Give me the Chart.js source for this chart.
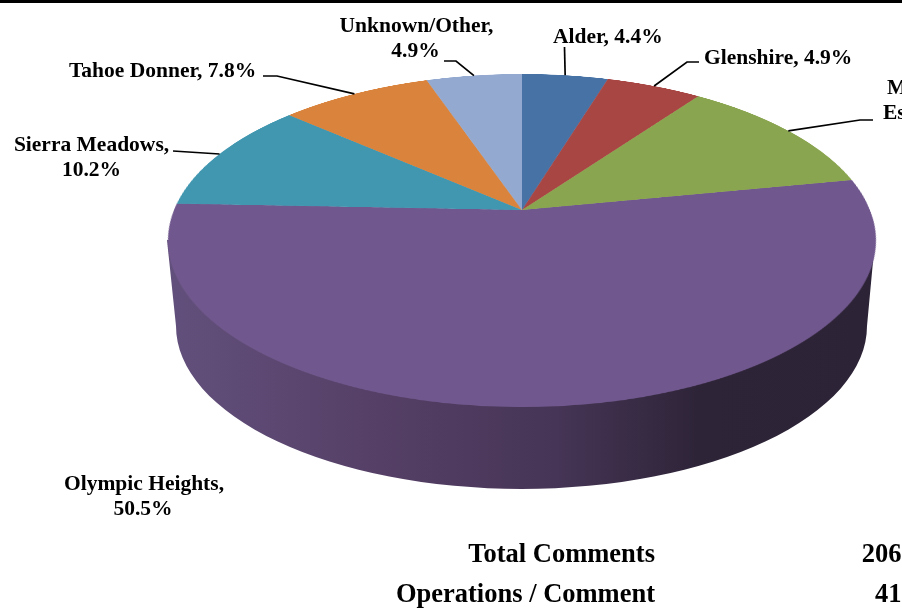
<!DOCTYPE html>
<html>
<head>
<meta charset="utf-8">
<title>Comments by neighbourhood</title>
<script src="https://cdn.jsdelivr.net/npm/chart.js@4"></script>
<style>
  html, body { margin: 0; padding: 0; background: #fff; }
  #page { position: relative; width: 902px; height: 610px; overflow: hidden; background: #fff; }
  #topbar { position: absolute; left: 0; top: 0; width: 902px; height: 3px; background: #000; }
  #wall, #leaders { position: absolute; left: 0; top: 0; }
  #pie { position: absolute; left: 0; top: 0; transform-origin: 0 0; }
  .lbl { position: absolute; font: bold 21.5px "Liberation Serif", serif; color: #000; white-space: nowrap; line-height: 20px; }
  .sum { position: absolute; font: bold 26.5px "Liberation Serif", serif; color: #000; white-space: nowrap; line-height: 28px; }
</style>
</head>
<body>
<div id="page">
  <div id="topbar"></div>
  <canvas id="wall" width="902" height="610"></canvas>
  <canvas id="pie" width="800" height="800"></canvas>
  <svg id="leaders" width="902" height="610"></svg>
</div>
<script>
// Data (third value is cut off in the picture, estimated from its slice)
const categories = ['Alder', 'Glenshire', 'M', 'Olympic Heights', 'Sierra Meadows', 'Tahoe Donner', 'Unknown/Other'];
const percents = [4.4, 4.9, 11.3, 50.5, 10.2, 7.8, 4.9];
const sliceColors = ['#4672a6', '#a84644', '#8aa54f', '#70578d', '#4197b0', '#d9833c', '#93a9d0'];
const summaryLabels = ['Total Comments', 'Operations / Comment'];
const summaryValues = ['206', '41'];

// Projection of the flat pie onto the page (tilted disc seen in perspective)
const CX = 522, APEX_Y = 210, RX = 348, RY = 122.44, PERSP = -0.1832, CANVAS_R = 400;

function project(u, v) {
  const w = 1 + PERSP * v;
  return [CX + RX * u / w, (APEX_Y + RY * v) / w];
}

function pieMatrix() {
  const r = CANVAS_R, c = PERSP;
  return 'matrix3d(' + [
    RX / r, 0, 0, 0,
    CX * c / r, RY / r, 0, c / r,
    0, 0, 1, 0,
    CX - CX * c - RX, APEX_Y - RY, 0, 1 - c
  ].join(',') + ')';
}

// Side of the pie, only the purple slice is visible from the front
function drawWall() {
  const ctx = document.getElementById('wall').getContext('2d');
  const grad = ctx.createLinearGradient(167, 0, 875, 0);
  grad.addColorStop(0, '#62507c');
  grad.addColorStop(0.3, '#553f66');
  grad.addColorStop(0.55, '#463556');
  grad.addColorStop(0.75, '#2e2438');
  grad.addColorStop(1, '#2d2337');
  ctx.fillStyle = grad;
  ctx.beginPath();
  ctx.moveTo(167, 240);
  ctx.lineTo(176, 326);
  ctx.ellipse(521.5, 326, 345.5, 163, 0, Math.PI, 0, true);
  ctx.lineTo(875, 240);
  ctx.closePath();
  ctx.fill();
}

const pieCanvas = document.getElementById('pie');

drawWall();

const chart = new Chart(pieCanvas, {
  type: 'pie',
  data: {
    labels: categories,
    datasets: [{
      data: percents,
      backgroundColor: sliceColors,
      borderWidth: 0,
      hoverOffset: 0,
    }]
  },
  options: {
    responsive: false,
    animation: false,
    devicePixelRatio: 2,
    radius: '100%',
    layout: { padding: 0 },
    plugins: { legend: { display: false }, tooltip: { enabled: false } },
  }
});
pieCanvas.style.transform = pieMatrix();

// Text layout in page pixels
const page = document.getElementById('page');

function addText(cls, text, x, y, align) {
  const el = document.createElement('div');
  el.className = cls;
  el.textContent = text;
  el.style.top = y + 'px';
  if (align === 'center') { el.style.left = x + 'px'; el.style.transform = 'translateX(-50%)'; }
  else if (align === 'right') { el.style.right = (902 - x) + 'px'; }
  else { el.style.left = x + 'px'; }
  page.appendChild(el);
}

const pct = i => percents[i] + '%';
addText('lbl', categories[0] + ', ' + pct(0), 553, 25.7);
addText('lbl', categories[1] + ', ' + pct(1), 704, 47);
addText('lbl', 'M', 887, 77);
addText('lbl', 'Es', 883, 102);
addText('lbl', categories[3] + ',', 144, 472.7, 'center');
addText('lbl', pct(3), 143, 498, 'center');
addText('lbl', categories[4] + ',', 91.5, 134.4, 'center');
addText('lbl', pct(4), 91.5, 158.7, 'center');
addText('lbl', categories[5] + ', ' + pct(5), 69, 59.7);
addText('lbl', categories[6] + ',', 416.5, 15, 'center');
addText('lbl', pct(6), 415.5, 40, 'center');

addText('sum', summaryLabels[0], 655, 539, 'right');
addText('sum', summaryLabels[1], 655, 579, 'right');
addText('sum', summaryValues[0], 901.5, 539, 'right');
addText('sum', summaryValues[1], 901.5, 579, 'right');

// Leaders run from each slice's mid angle on the rim out to its label
const leaderElbows = {
  0: [[564.5, 47]],
  1: [[687, 62], [699, 62]],
  2: [[860, 120], [873, 120]],
  4: [[173, 151]],
  5: [[277, 76], [263, 76]],
  6: [[456, 61], [444, 61]],
};

const svg = document.getElementById('leaders');
const arcs = chart.getDatasetMeta(0).data;
Object.keys(leaderElbows).forEach(k => {
  const arc = arcs[k];
  const mid = (arc.startAngle + arc.endAngle) / 2;
  const pts = [project(Math.cos(mid), Math.sin(mid))].concat(leaderElbows[k]);
  const line = document.createElementNS('http://www.w3.org/2000/svg', 'polyline');
  line.setAttribute('points', pts.map(p => p.join(',')).join(' '));
  line.setAttribute('fill', 'none');
  line.setAttribute('stroke', '#000');
  line.setAttribute('stroke-width', '1.7');
  svg.appendChild(line);
});
</script>
</body>
</html>
